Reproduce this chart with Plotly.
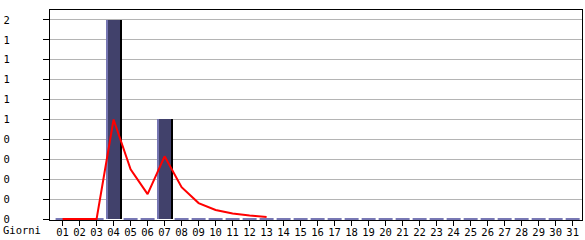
import plotly.graph_objects as go

days = [f"{d:02d}" for d in range(1, 32)]
counts = [0, 0, 0, 2, 0, 0, 1] + [0] * 24
trend = [0, 0, 0, 1.0, 0.5, 0.25, 0.63, 0.32, 0.16, 0.09, 0.055, 0.035, 0.02] + [None] * 18
ytick_vals = [0, 0.2, 0.4, 0.6, 0.8, 1.0, 1.2, 1.4, 1.6, 1.8, 2.0]
ytick_text = ["0", "0", "0", "0", "0", "1", "1", "1", "1", "1", "2"]
x_title = "Giorni"

FONT = "DejaVu Sans Mono"
FS = 10.5

fig = go.Figure()

# black shadow (right edge)
fig.add_trace(go.Bar(x=days, y=counts, offset=-0.45, width=0.94,
                     marker=dict(color="#000000", line=dict(width=0)),
                     hoverinfo="skip", showlegend=False))
# body
fig.add_trace(go.Bar(x=days, y=counts, offset=-0.33, width=0.71,
                     marker=dict(color="#41416b", line=dict(width=0)),
                     hoverinfo="skip", showlegend=False))
# light left strip
fig.add_trace(go.Bar(x=days, y=counts, offset=-0.45, width=0.12,
                     marker=dict(color="#7676b2", line=dict(width=0)),
                     hoverinfo="skip", showlegend=False))

# zero-value bars drawn as thin flat marks
zero_days = [d for d, c in zip(days, counts) if c == 0]
fig.add_trace(go.Scatter(x=zero_days, y=[0] * len(zero_days), mode="markers",
                         marker=dict(symbol="line-ew", size=10,
                                     line=dict(color="#7878b4", width=2)),
                         cliponaxis=False, hoverinfo="skip", showlegend=False))

fig.add_trace(go.Scatter(x=days, y=trend, mode="lines",
                         line=dict(color="#ff0000", width=2),
                         connectgaps=False, hoverinfo="skip", showlegend=False))

fig.update_layout(
    width=585, height=240,
    margin=dict(l=50, r=3, t=10, b=20),
    paper_bgcolor="#ffffff", plot_bgcolor="#ffffff",
    barmode="overlay", bargap=0,
    font=dict(family=FONT, size=FS, color="#000000"),
    xaxis=dict(type="category", range=[-0.74, 30.55], automargin=False,
               showgrid=False, showline=True, linecolor="#000000", linewidth=1,
               mirror=True, ticks="outside", ticklen=5, tickcolor="#000000",
               ticklabelstandoff=-3,
               tickfont=dict(family=FONT, size=FS, color="#000000")),
    yaxis=dict(range=[-0.01, 2.1], tickvals=ytick_vals, ticktext=ytick_text,
               automargin=False,
               showgrid=True, gridcolor="#b4b4b4", gridwidth=1,
               showline=True, linecolor="#000000", linewidth=1, mirror=True,
               ticks="outside", ticklen=6, tickcolor="#000000",
               ticklabelstandoff=31, zeroline=False,
               tickfont=dict(family=FONT, size=FS, color="#000000")),
    annotations=[dict(text=x_title, xref="paper", yref="paper",
                      x=-49 / 532, y=-0.01, xanchor="left", yanchor="top",
                      showarrow=False,
                      font=dict(family=FONT, size=FS, color="#000000"))],
)

fig.write_html("out.html")
